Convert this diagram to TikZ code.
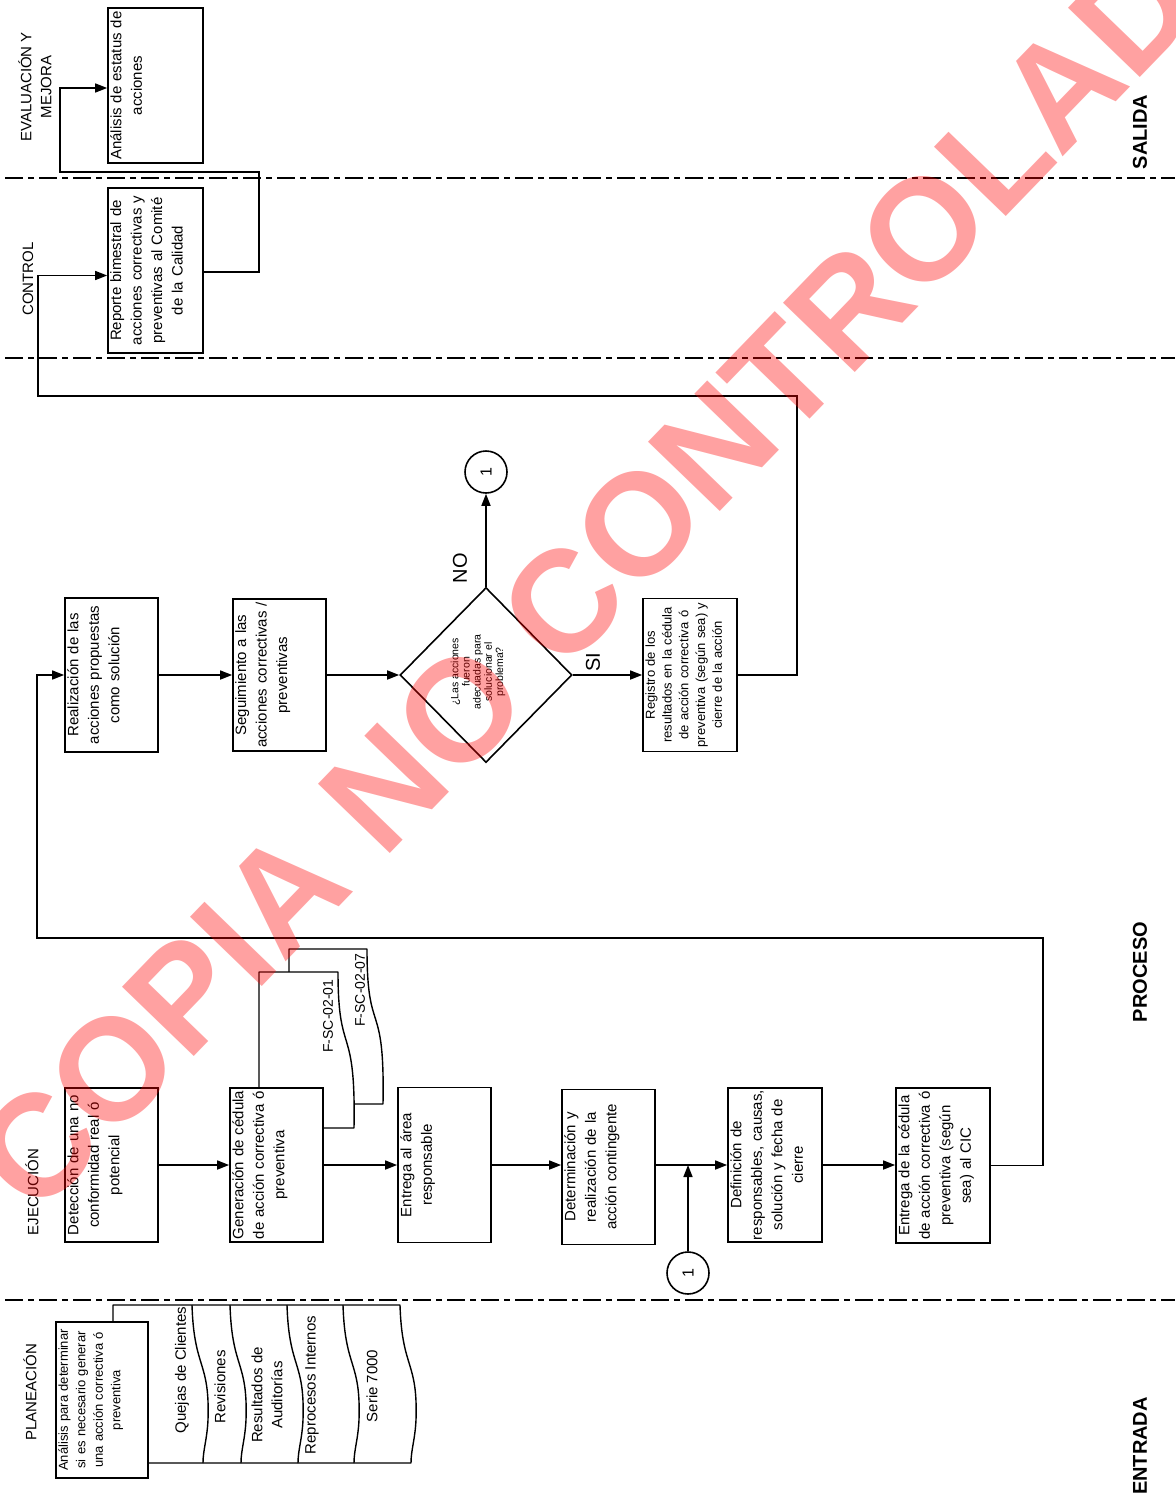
\documentclass[tikz,border=0pt]{standalone}
\usepackage{fontspec}
\setmainfont{Liberation Sans}
\usetikzlibrary{arrows.meta,shapes.geometric}
\begin{document}
\begin{tikzpicture}[x=1pt,y=-1pt,
  box/.style={draw,fill=white,line width=1.7pt,inner sep=0pt},
  txt/.style={rotate=90,anchor=north,align=center,inner sep=3pt,text width=176pt,font=\fontsize{15}{20.5}\selectfont},
  smalltxt/.style={txt,font=\fontsize{13}{16.8}\selectfont},
  lanelbl/.style={rotate=90,align=center,font=\fontsize{15}{20}\selectfont},
  sidelbl/.style={rotate=90,font=\fontsize{20}{24}\selectfont\bfseries},
  conn/.style={line width=1.6pt},
  arr/.style={conn,-{Triangle[length=12pt,width=9pt]}},
  docline/.style={line width=1.4pt,fill=white,line join=round},
  laneline/.style={line width=2.5pt,dash pattern=on 18pt off 5pt on 6pt off 5pt},
  conncircle/.style={circle,draw,fill=white,line width=1.6pt,minimum size=42pt,inner sep=0pt,font=\fontsize{16}{16}\selectfont}
]
\useasboundingbox (0,0) rectangle (1175,1501);

% lane separators
\draw[laneline] (5,178) -- (1175,178);
\draw[laneline] (5,358) -- (1175,358);
\draw[laneline] (5,1300) -- (1175,1300);

% lane labels
\node[lanelbl] (lEval) at (35,87) {EVALUACIÓN Y\\MEJORA};
\node[lanelbl] (lCtrl) at (28,279) {CONTROL};
\node[lanelbl] (lEjec) at (32,1192) {EJECUCIÓN};
\node[lanelbl] (lPlan) at (30,1392) {PLANEACIÓN};
\node[sidelbl] (lSal) at (1140,132) {SALIDA};
\node[sidelbl] (lPro) at (1140,972) {PROCESO};
\node[sidelbl] (lEnt) at (1140,1446) {ENTRADA};
\node[font=\fontsize{16}{16}\selectfont] (pg) at (37,1512) {15};

% ---------- EVALUACION / CONTROL ----------
\node[box,minimum width=95pt,minimum height=155pt] (A1) at (155.5,85.5) {};
\node[txt] (A1t) at (A1.west) {Análisis de estatus de\\acciones};
\node[box,minimum width=95pt,minimum height=165pt] (C1) at (155.5,270.5) {};
\node[txt] (C1t) at (C1.west) {Reporte bimestral de\\acciones correctivas y\\preventivas al Comité\\de la Calidad};

% ---------- upper process row ----------
\node[box,minimum width=93pt,minimum height=154pt] (R1) at (111.5,675) {};
\node[txt] (R1t) at (R1.west) {Realización de las\\acciones propuestas\\como solución};
\node[box,minimum width=93pt,minimum height=152pt] (S1) at (279.5,675) {};
\node[txt] (S1t) at (S1.west) {Seguimiento a las\\acciones correctivas /\\preventivas};
\node[diamond,draw,fill=white,line width=1.6pt,minimum width=172pt,minimum height=175pt,inner sep=0pt,aspect=1] (q) at (486,675) {};
\node[rotate=90,align=center,font=\fontsize{10.5}{11.2}\selectfont] (qt) at (478,672) {¿Las acciones\\fueron\\adecuadas para\\solucionar el\\problema?};
\node[conncircle] (c1) at (486,472) {\rotatebox{90}{1}};
\node[box,minimum width=94pt,minimum height=153pt] (Reg) at (690,675) {};
\node[smalltxt] (Regt) at (Reg.west) {Registro de los\\resultados en la cédula\\de acción correctiva ó\\preventiva (según sea) y\\cierre de la acción};
\node[rotate=90,font=\fontsize{20}{24}\selectfont] (lNO) at (460,568) {NO};
\node[rotate=90,font=\fontsize{20}{24}\selectfont] (lSI) at (593,662) {SI};

% ---------- documents behind G1 ----------
\draw[docline] (289,1104) -- (289,949) -- (367,949) .. controls (367,1040) and (385,995) .. (383,1104) -- cycle;
\draw[docline] (259,1128) -- (259,972) -- (338,972) .. controls (338,1060) and (356,1020) .. (354,1128) -- cycle;
\node[rotate=90,font=\fontsize{14}{16}\selectfont] (f01) at (328,1016) {F-SC-02-01};
\node[rotate=90,font=\fontsize{14}{16}\selectfont] (f07) at (360,990) {F-SC-02-07};

% ---------- lower process row ----------
\node[box,minimum width=93pt,minimum height=154pt] (D1) at (111.5,1165) {};
\node[txt] (D1t) at (D1.west) {Detección de una no\\conformidad real ó\\potencial};
\node[box,minimum width=93pt,minimum height=154pt] (G1) at (276.5,1165) {};
\node[txt] (G1t) at (G1.west) {Generación de cédula\\de acción correctiva ó\\preventiva};
\node[box,minimum width=93pt,minimum height=155pt] (E1) at (444.5,1165) {};
\node[txt] (E1t) at (E1.west) {Entrega al área\\responsable};
\node[box,minimum width=93pt,minimum height=155pt] (Dt) at (608.5,1167) {};
\node[txt] (Dtt) at (Dt.west) {Determinación y\\realización de la\\acción contingente};
\node[box,minimum width=94pt,minimum height=154pt] (Df) at (775,1165) {};
\node[txt] (Dft) at (Df.west) {Definición de\\responsables, causas,\\solución y fecha de\\cierre};
\node[box,minimum width=94pt,minimum height=155pt] (En) at (943,1165.5) {};
\node[txt] (Ent) at (En.west) {Entrega de la cédula\\de acción correctiva ó\\preventiva (según\\sea) al CIC};
\node[conncircle] (c2) at (688,1273) {\rotatebox{90}{1}};
\coordinate (j) at (688,1165);

% ---------- planeacion ----------
\draw[docline] (113,1463) -- (113,1305) -- (400,1305) .. controls (402,1370) and (418,1360) .. (416,1420) .. controls (415,1440) and (411,1450) .. (411,1463) -- cycle;
\draw[docline,fill=none] (192,1305) .. controls (194,1370) and (210,1360) .. (208,1420) .. controls (207,1440) and (203,1450) .. (203,1463);
\draw[docline,fill=none] (230,1305) .. controls (232,1370) and (248,1360) .. (246,1420) .. controls (245,1440) and (241,1450) .. (241,1463);
\draw[docline,fill=none] (287,1305) .. controls (289,1370) and (305,1360) .. (303,1420) .. controls (302,1440) and (298,1450) .. (298,1463);
\draw[docline,fill=none] (343,1305) .. controls (345,1370) and (361,1360) .. (359,1420) .. controls (358,1440) and (354,1450) .. (354,1463);
\node[lanelbl] (s1) at (182,1370) {Quejas de Clientes};
\node[lanelbl] (s2) at (220,1387) {Revisiones};
\node[lanelbl] (s3) at (267,1395) {Resultados de\\Auditorías};
\node[lanelbl] (s4) at (312,1385) {Reprocesos Internos};
\node[lanelbl] (s5) at (372,1386) {Serie 7000};
\node[box,minimum width=92pt,minimum height=156pt] (P1) at (102,1400) {};
\node[smalltxt,font=\fontsize{13}{17.5}\selectfont] (P1t) at (P1.west) {Análisis para determinar\\si es necesario generar\\una acción correctiva ó\\preventiva};

% ---------- connectors ----------
\draw[arr] (R1.east) -- (R1.east -| S1.west);
\draw[arr] (S1.east) -- (q.west);
\draw[arr] (q.north) -- (c1.south);
\draw[arr] (q.east) -- (q.east -| Reg.west);
\coordinate (k1) at (797,396);
\coordinate (k2) at (38,396);
\draw[arr] (Reg.east) -| (k1) -- (k2) |- ([yshift=-5pt]C1.west);
\coordinate (k3) at (259,172);
\coordinate (k4) at (60,172);
\draw[arr] ([yshift=-1.5pt]C1.east) -| (k3) -- (k4) |- ([yshift=-2.5pt]A1.west);

\draw[arr] (D1.east) -- (D1.east -| G1.west);
\draw[arr] (G1.east) -- (G1.east -| E1.west);
\draw[arr] (E1.east) -- (E1.east -| Dt.west);
\draw[arr] (E1.east -| Dt.east) -- (E1.east -| Df.west);
\draw[arr] (c2.north) -- (j);
\draw[arr] (Df.east) -- (Df.east -| En.west);
\coordinate (k5) at (1043,938);
\coordinate (k6) at (37,938);
\draw[arr] (En.east) -| (k5) -- (k6) |- (R1.west);

% ---------- watermark ----------
\node[rotate=46,inner sep=0pt,text=red,text opacity=0.37,font=\fontsize{145}{145}\selectfont\bfseries] (wm) at (622,542) {COPIA NO CONTROLADA};
\end{tikzpicture}
\end{document}
